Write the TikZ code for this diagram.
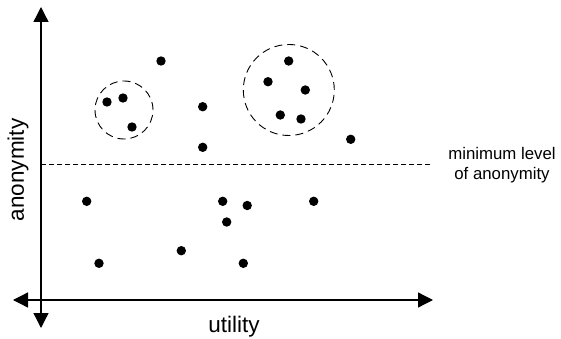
\documentclass[tikz,border=0pt]{standalone}
\usepackage{fontspec}
\setmainfont{Liberation Sans}
\usetikzlibrary{arrows.meta}
\begin{document}
\begin{tikzpicture}[x=1pt,y=-1pt,
  axis/.style={line width=1.3pt,{Triangle[length=15pt,width=15pt]}-{Triangle[length=15pt,width=15pt]}},
  dot/.style={circle,fill=black,inner sep=0pt,minimum size=9.4pt},
  group/.style={circle,draw=black,line width=0.9pt,dash pattern=on 8pt off 5pt,inner sep=0pt},
  threshold/.style={line width=0.9pt,dash pattern=on 4.5pt off 3.5pt},
  bigtext/.style={font=\fontsize{22.5}{27}\selectfont,inner sep=0pt},
  smalltext/.style={font=\fontsize{16.8}{20}\selectfont,inner sep=0pt,align=center}]
\useasboundingbox (0,0) rectangle (561,339);
% axes
\coordinate (ytop) at (41,7);
\coordinate (ybot) at (41,328);
\coordinate (xleft) at (13,300);
\coordinate (xright) at (433,300);
\draw[axis] (ybot) -- (ytop);
\draw[axis] (xleft) -- (xright);
% threshold
\coordinate (tl) at (41,164);
\coordinate (tr) at (433,164);
\draw[threshold] (tl) -- (tr);
% labels
\node[bigtext,anchor=base] (ulab) at (234,332) {utility};
\node[bigtext,rotate=90] (alab) at (18,170) {anonymity};
\node[smalltext] (mlab) at (502,165) {minimum level\\of anonymity};
% groups
\node[group,minimum size=58pt] (g1) at (124,110) {};
\node[group,minimum size=91pt] (g2) at (288.8,90) {};
% dots
\node[dot] (d1) at (161,61) {};
\node[dot] (d2) at (107,102) {};
\node[dot] (d3) at (123,98) {};
\node[dot] (d4) at (132,127) {};
\node[dot] (d5) at (202.7,106.7) {};
\node[dot] (d6) at (202.7,147.3) {};
\node[dot] (d7) at (288.7,61) {};
\node[dot] (d8) at (268,81.7) {};
\node[dot] (d9) at (305.3,90) {};
\node[dot] (d10) at (280.3,115) {};
\node[dot] (d11) at (301,119) {};
\node[dot] (d12) at (350.7,139.3) {};
\node[dot] (d13) at (86.7,201.3) {};
\node[dot] (d14) at (99,263.3) {};
\node[dot] (d15) at (181.3,250.7) {};
\node[dot] (d16) at (222.7,201.3) {};
\node[dot] (d17) at (247.2,205.5) {};
\node[dot] (d18) at (226.7,222) {};
\node[dot] (d19) at (243.3,263.3) {};
\node[dot] (d20) at (313.7,201.3) {};
\end{tikzpicture}
\end{document}
